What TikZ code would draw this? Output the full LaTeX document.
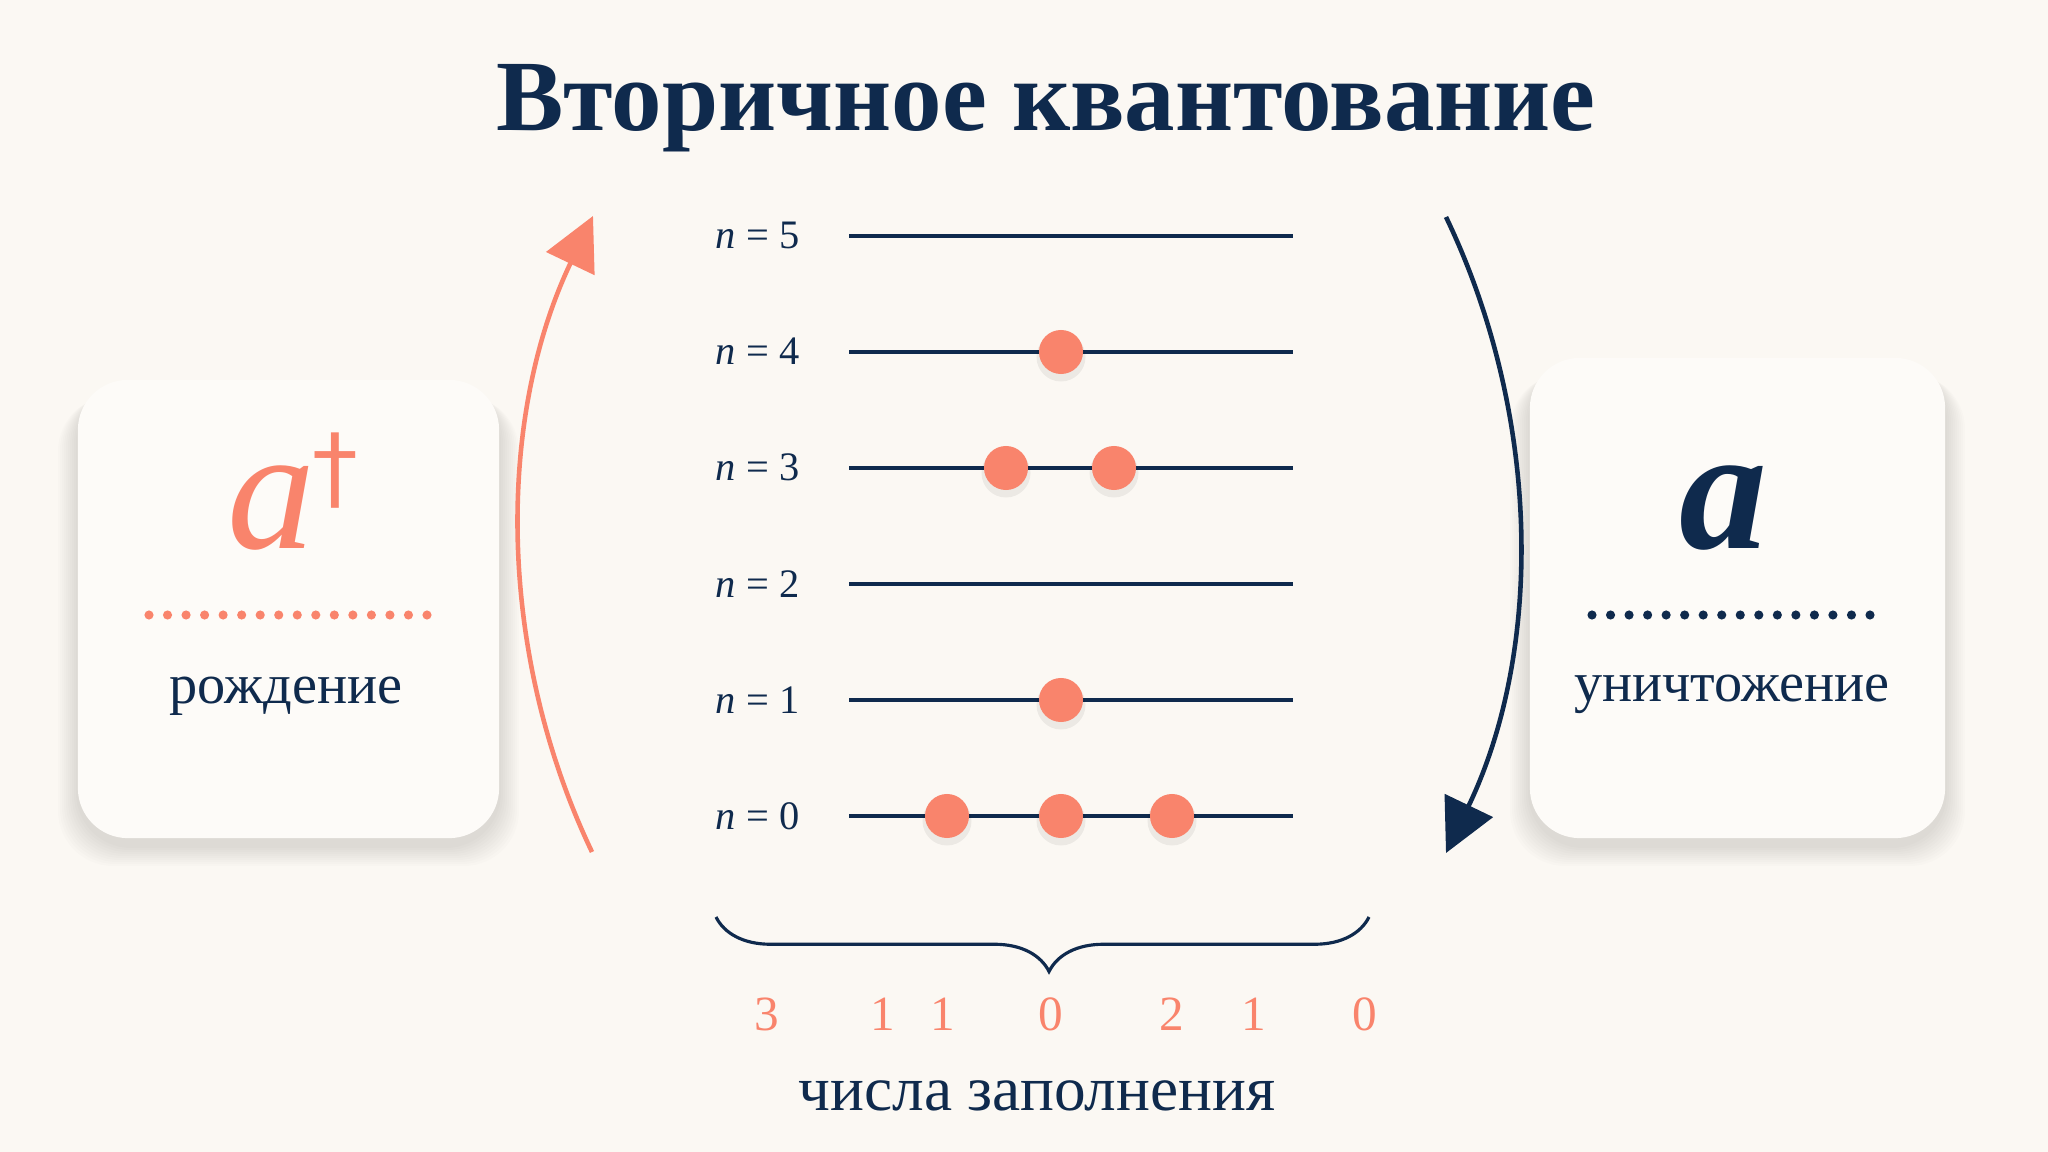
\documentclass[tikz,border=0pt]{standalone}
\usepackage{fontspec}
\setmainfont{Liberation Serif}
\newfontfamily\crossfont{DejaVu Sans}
\usetikzlibrary{arrows.meta,positioning,decorations.pathreplacing}
\definecolor{navy}{HTML}{0F2A4D}
\definecolor{coral}{HTML}{F9846C}
\definecolor{paper}{HTML}{FBF8F3}
\definecolor{cardfill}{HTML}{FDFBF8}
\tikzset
{
    titletext/.style  = {anchor=base, text=navy, font=\fontsize{28.7pt}{28.7pt}\selectfont\bfseries},
    card/.style       = {rounded corners=0.5cm, fill=cardfill, inner sep=0pt},
    cardshadow/.style = {fill=black, opacity=0.012, rounded corners=0.55cm},
    opname/.style     = {anchor=base, inner sep=0pt, font=\fontsize{50pt}{50pt}\selectfont\itshape},
    caption/.style    = {anchor=base, text=navy, font=\fontsize{16pt}{16pt}\selectfont},
    dotrule/.style    = {line width=2.6pt, line cap=round, dash pattern=on 0pt off 5.27pt},
    levelline/.style  = {draw=navy, line width=1pt},
    statelabel/.style = {anchor=base east, text=navy, inner sep=0pt, font=\fontsize{11.5pt}{11.5pt}\selectfont},
    particle/.style   = {circle, fill=coral, minimum size=0.44cm, inner sep=0pt},
    occnum/.style     = {anchor=base, text=coral, inner sep=0pt, font=\fontsize{14pt}{14pt}\selectfont},
    oparrow/.style    = {line width=1.3pt, -{Triangle[length=15pt,width=15pt]}}
}
\begin{document}
\begin{tikzpicture}[x=0.01cm, y=-0.01cm]
    \useasboundingbox (0,0) rectangle (2048,1152);
    \fill[paper] (0,0) rectangle (2048,1152);

    \node [titletext] (title) at (1046,131) {Вторичное квантование};

    \foreach \i in {1,...,10}
    {
        \fill[cardshadow] (78-2*\i,386+\i) rectangle (499+2*\i,846+2*\i);
        \fill[cardshadow] (1530-2*\i,364+\i) rectangle (1945+2*\i,846+2*\i);
    }
    \node [card, minimum width=4.21cm, minimum height=4.58cm] (create) at (288.5,609) {};
    \node [card, minimum width=4.15cm, minimum height=4.80cm] (annih) at (1737.5,598) {};

    \node [opname, text=coral] (adag) at (293,549) {a\hspace{-1pt}\raisebox{14pt}{\fontsize{26pt}{26pt}\crossfont\upshape †}};
    \coordinate (cl1) at (149,615);
    \coordinate (cl2) at (427,615);
    \draw[dotrule, coral] (cl1) -- (cl2);
    \node [caption] (birth) at (286,703) {рождение};

    \node [opname, text=navy] (aop) at (1723,549) {\bfseries a};
    \coordinate (al1) at (1592,615);
    \coordinate (al2) at (1874,615);
    \draw[dotrule, navy] (al1) -- (al2);
    \node [caption] (death) at (1732,702) {уничтожение};

    \foreach \k in {0,...,5}
    {
        \coordinate (s\k) at (849,{816-116*\k});
        \coordinate (e\k) at (1293,{816-116*\k});
        \draw[levelline] (s\k) -- (e\k);
        \node [statelabel] (n\k) at (800,{829-116*\k}) {\textit{n} = \k};
    }
    \foreach \x/\k [count=\i] in {1061/4, 1006/3, 1114/3, 1061/1, 947/0, 1061/0, 1172/0}
    {
        \fill[black, opacity=0.06] (\x,{821-116*\k}) circle (0.245cm);
        \node [particle] (p\i) at (\x,{816-116*\k}) {};
    }

    \coordinate (cb) at (592,852);
    \coordinate (ct) at (593,216);
    \draw[oparrow, coral] (cb) .. controls (496,651) and (497,417) .. (ct);
    \coordinate (at) at (1446,217);
    \coordinate (ab) at (1446,853);
    \draw[oparrow, navy] (at) .. controls (1542,417) and (1543,651) .. (ab);

    \coordinate (bl) at (716,917);
    \coordinate (br) at (1369,917);
    \draw[navy, line width=0.9pt, decorate, decoration={brace, mirror, amplitude=15.5pt, aspect=0.51}] (bl) -- (br);
    \foreach \x/\v [count=\i] in {767/3, 883/1, 943/1, 1051/0, 1172/2, 1254/1, 1365/0}
    {
        \node [occnum] (o\i) at (\x,1030) {\v};
    }
    \node [caption, font=\fontsize{18pt}{18pt}\selectfont] (occ) at (1037,1110) {числа заполнения};
\end{tikzpicture}
\end{document}
